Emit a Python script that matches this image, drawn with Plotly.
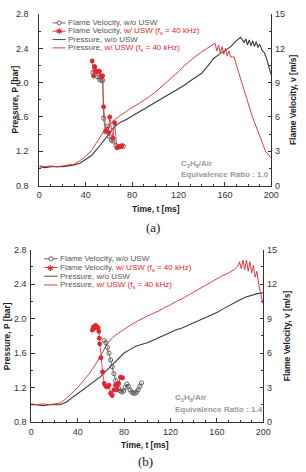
import plotly.graph_objects as go

W, H = 306, 472

# ---------------- DATA ----------------
# Panel (a): Equivalence ratio 1.0
a_p_wo_t = [0, 5, 10, 15, 20, 25, 30, 35, 40, 45, 50, 55, 60, 65, 70, 75, 80, 85, 90, 95,
            100, 105, 110, 115, 120, 125, 130, 135, 140, 145, 150, 155, 160, 165, 170,
            172, 173.5, 175, 176.5, 178, 179.5, 181, 182.5, 184, 185.5, 187, 188.5, 190,
            192, 194, 196, 198, 200]
a_p_wo = [1.02, 1.01, 1.02, 1.02, 1.02, 1.03, 1.04, 1.06, 1.10, 1.15, 1.23, 1.31, 1.40, 1.49, 1.54,
          1.57, 1.61, 1.65, 1.68, 1.72, 1.76, 1.80, 1.85, 1.89, 1.93, 1.97, 2.02, 2.06, 2.11, 2.19,
          2.28, 2.33, 2.37, 2.42, 2.49, 2.52, 2.53, 2.50, 2.47, 2.51, 2.44, 2.50, 2.43, 2.49, 2.42,
          2.48, 2.41, 2.45, 2.38, 2.35, 2.28, 2.18, 2.09]

a_p_w_t = [0, 5, 10, 15, 20, 25, 30, 35, 40, 45, 50, 55, 60, 65, 70, 75, 80, 85, 90, 95,
           100, 105, 110, 115, 120, 125, 130, 135, 140, 145, 150,
           151.5, 153, 154.5, 156, 157.5, 159, 160.5, 162, 163.5, 165, 168,
           170, 174, 178, 183.5, 190, 195, 200]
a_p_w = [1.03, 1.02, 1.03, 1.02, 1.03, 1.04, 1.05, 1.09, 1.14, 1.21, 1.32, 1.42, 1.50, 1.57, 1.62,
         1.67, 1.71, 1.75, 1.79, 1.84, 1.89, 1.95, 2.00, 2.06, 2.13, 2.20, 2.26, 2.31, 2.36, 2.40,
         2.44, 2.46, 2.37, 2.44, 2.35, 2.42, 2.33, 2.40, 2.31, 2.37, 2.30, 2.30,
         2.20, 2.03, 1.86, 1.61, 1.38, 1.20, 1.12]

a_v_wo_t = [46.2, 47.6, 49.0, 50.4, 51.8, 53.2, 54.6, 55.4, 57.0, 59.0, 60.5, 62.0, 63.5, 66.0, 68.5, 70.5, 72.5]
a_v_wo = [9.9, 10.4, 10.0, 9.5, 9.3, 9.2, 9.2, 5.9, 4.7, 5.2, 4.3, 4.0, 3.9, 3.5, 3.4, 3.4, 3.45]

a_v_w_t = [45.6, 46.8, 47.6, 49.0, 50.4, 51.8, 53.2, 54.6, 55.4, 57.4, 59.6, 60.7, 63.5, 64.9, 67.0, 69.0, 71.2]
a_v_w = [10.9, 9.6, 10.4, 10.0, 10.0, 10.0, 9.6, 9.6, 6.9, 4.8, 4.65, 6.0, 4.15, 5.5, 3.3, 3.4, 3.5]

# Panel (b): Equivalence ratio 1.4
b_p_wo_t = [0, 5, 10, 15, 20, 25, 30, 35, 40, 45, 50, 55, 60, 65, 70, 75, 80, 85, 90, 95,
            100, 105, 110, 115, 120, 125, 130, 135, 140, 145, 150, 155, 160, 165, 170, 175,
            180, 185, 190, 195, 200]
b_p_wo = [1.00, 1.00, 0.99, 1.00, 1.00, 1.00, 1.03, 1.08, 1.12, 1.17, 1.23, 1.28, 1.33, 1.40, 1.47,
          1.54, 1.60, 1.64, 1.68, 1.70, 1.72, 1.75, 1.78, 1.81, 1.84, 1.87, 1.89, 1.92, 1.95, 1.98,
          2.01, 2.04, 2.07, 2.11, 2.15, 2.18, 2.22, 2.25, 2.27, 2.29, 2.30]

b_p_w_t = [0, 5, 10, 15, 20, 25, 30, 35, 40, 45, 50, 55, 60, 65, 70, 75, 80, 85, 90, 95,
           100, 105, 110, 115, 120, 125, 130, 135, 140, 145, 150, 155, 160, 165, 170, 175,
           178, 179.5, 181, 182.5, 184, 185.5, 187, 188.5, 190, 191.5, 193, 194.5, 196, 198, 200]
b_p_w = [1.01, 1.00, 1.01, 1.00, 1.01, 1.02, 1.07, 1.13, 1.20, 1.28, 1.36, 1.46, 1.57, 1.70, 1.78,
         1.83, 1.88, 1.92, 1.96, 2.00, 2.03, 2.06, 2.09, 2.13, 2.16, 2.20, 2.23, 2.27, 2.31, 2.35,
         2.38, 2.43, 2.46, 2.50, 2.53, 2.57, 2.61, 2.66, 2.58, 2.68, 2.57, 2.68, 2.55, 2.66, 2.53,
         2.62, 2.48, 2.55, 2.40, 2.28, 2.16]

b_v_wo_t = [62.9, 64.3, 65.6, 67.0, 68.4, 69.8, 71.2, 72.6, 74.0, 75.4, 76.8, 78.2, 79.6, 81.0,
            82.4, 83.8, 85.2, 86.6, 88.0, 89.4, 90.8, 92.2, 93.6, 95.0]
b_v_wo = [7.1, 6.9, 6.5, 6.0, 5.4, 4.8, 4.2, 3.6, 3.2, 2.9, 2.7, 2.6, 2.7, 3.0, 3.3, 3.1, 2.8,
          2.6, 2.5, 2.5, 2.6, 2.8, 3.1, 3.4]

b_v_w_t = [52.7, 53.6, 54.6, 55.5, 56.5, 57.5, 58.2, 58.7, 59.0, 60.1, 61.5, 62.9, 64.3, 65.6,
           67.0, 68.4, 69.8, 71.2, 72.6, 74.0, 75.4, 76.8, 78.7]
b_v_w = [8.0, 8.3, 8.2, 8.4, 8.3, 8.2, 7.9, 7.3, 6.8, 5.6, 4.35, 3.35, 3.1, 3.05, 3.2, 2.5, 2.3,
         2.8, 3.2, 2.8, 3.35, 3.9, 3.85]

x_ticks = [0, 40, 80, 120, 160, 200]
p_ticks = [0.8, 1.2, 1.6, 2.0, 2.4, 2.8]
v_ticks = [0, 3, 6, 9, 12, 15]

legend_labels = [
    "Flame Velocity, w/o USW",
    "Flame Velocity, <span style='color:#e3262c'>w/ USW (f<sub>s</sub> = 40 kHz)</span>",
    "Pressure, w/o USW",
    "Pressure, <span style='color:#e3262c'>w/ USW (f<sub>s</sub> = 40 kHz)</span>",
]

# ---------------- STYLE ----------------
FONT = "Liberation Sans, Arial, sans-serif"
BLACK = "#3a3a3a"
GRAY_M = "#555555"
RED = "#e3262c"
AX = "#333333"


def X(p):
    return p / W


def Y(p):
    return 1 - p / H


fig = go.Figure()

panels = [
    dict(x="x", yl="y", yr="y2", pwo=(a_p_wo_t, a_p_wo), pw=(a_p_w_t, a_p_w),
         vwo=(a_v_wo_t, a_v_wo), vw=(a_v_w_t, a_v_w)),
    dict(x="x2", yl="y3", yr="y4", pwo=(b_p_wo_t, b_p_wo), pw=(b_p_w_t, b_p_w),
         vwo=(b_v_wo_t, b_v_wo), vw=(b_v_w_t, b_v_w)),
]

for pn in panels:
    fig.add_trace(go.Scatter(x=pn["pwo"][0], y=pn["pwo"][1], xaxis=pn["x"], yaxis=pn["yl"],
                             mode="lines", line=dict(color=BLACK, width=1.1), showlegend=False))
    fig.add_trace(go.Scatter(x=pn["pw"][0], y=pn["pw"][1], xaxis=pn["x"], yaxis=pn["yl"],
                             mode="lines", line=dict(color=RED, width=0.9), showlegend=False))
    fig.add_trace(go.Scatter(x=pn["vwo"][0], y=pn["vwo"][1], xaxis=pn["x"], yaxis=pn["yr"],
                             mode="lines+markers", line=dict(color=GRAY_M, width=0.8),
                             marker=dict(symbol="circle-open", size=4.2, color=GRAY_M,
                                         line=dict(width=0.9)),
                             showlegend=False))
    fig.add_trace(go.Scatter(x=pn["vw"][0], y=pn["vw"][1], xaxis=pn["x"], yaxis=pn["yr"],
                             mode="lines+markers", line=dict(color=RED, width=0.8),
                             marker=dict(symbol="asterisk-open", size=4, color=RED,
                                         line=dict(width=1.5, color=RED)),
                             showlegend=False))

tickfont = dict(family=FONT, size=9, color="#333333")


def xax(domain, anchor):
    return dict(domain=domain, anchor=anchor, range=[0, 200], tickvals=x_ticks,
                ticks="inside", ticklen=3.5, tickcolor=AX, tickwidth=0.8,
                minor=dict(dtick=10, ticks="inside", ticklen=2, tickcolor=AX, tickwidth=0.8),
                showline=True, linecolor=AX, linewidth=1, mirror=False,
                showgrid=False, zeroline=False, tickfont=tickfont, ticklabelstandoff=1)


def yl(domain, anchor, standoff):
    return dict(domain=domain, anchor=anchor, range=[0.8, 2.8], tickvals=p_ticks,
                tickformat=".1f", ticks="inside", ticklen=3.5, tickcolor=AX, tickwidth=0.8,
                minor=dict(dtick=0.2, ticks="inside", ticklen=2, tickcolor=AX, tickwidth=0.8),
                showline=True, linecolor=AX, linewidth=1, showgrid=False, zeroline=False,
                tickfont=tickfont, ticklabelstandoff=standoff)


def yr(overlay, anchor):
    return dict(overlaying=overlay, anchor=anchor, side="right", range=[0, 15], tickvals=v_ticks,
                ticks="inside", ticklen=3.5, tickcolor=AX, tickwidth=0.8,
                minor=dict(dtick=1.5, ticks="inside", ticklen=2, tickcolor=AX, tickwidth=0.8),
                showline=True, linecolor=AX, linewidth=1, showgrid=False, zeroline=False,
                tickfont=tickfont, ticklabelstandoff=1)


# plot area pixel boxes
A = dict(l=37.7, r=278.3, t=9.3, b=184.5)
B = dict(l=29.3, r=270.0, t=250.0, b=426.0)

fig.update_layout(
    width=W, height=H,
    margin=dict(l=0, r=0, t=0, b=0),
    paper_bgcolor="white", plot_bgcolor="white",
    showlegend=False,
    xaxis=xax([X(A["l"]), X(A["r"])], "y"),
    yaxis=yl([Y(A["b"]), Y(A["t"])], "x", 8),
    yaxis2=yr("y", "x"),
    xaxis2=xax([X(B["l"]), X(B["r"])], "y3"),
    yaxis3=yl([Y(B["b"]), Y(B["t"])], "x2", 2),
    yaxis4=yr("y3", "x2"),
)

ann = []
shapes = []


def add_text(x, y, text, size=8.5, color="#444444", xanchor="left", angle=0, family=FONT):
    ann.append(dict(x=X(x), y=Y(y), xref="paper", yref="paper", text=text, showarrow=False,
                    xanchor=xanchor, yanchor="middle", textangle=angle, borderpad=0,
                    font=dict(family=family, size=size, color=color)))


def legend(x0, x1, xt, rows):
    styles = ["circ", "star", "black", "red"]
    for lab, yy, st in zip(legend_labels, rows, styles):
        col = {"circ": GRAY_M, "star": RED, "black": BLACK, "red": RED}[st]
        shapes.append(dict(type="line", xref="paper", yref="paper", x0=X(x0), x1=X(x1),
                           y0=Y(yy), y1=Y(yy), line=dict(color=col, width=0.9)))
        xm = (x0 + x1) / 2
        if st == "circ":
            shapes.append(dict(type="circle", xref="paper", yref="paper",
                               x0=X(xm - 2.1), x1=X(xm + 2.1), y0=Y(yy + 2.1), y1=Y(yy - 2.1),
                               line=dict(color=GRAY_M, width=0.9), fillcolor="white"))
        if st == "star":
            add_text(xm, yy + 0.5, "✱", size=7.5, color=RED, xanchor="center")
        add_text(xt, yy, lab, size=8, color="#555555")


legend(51.5, 65, 66.5, [18.3, 26.8, 35.3, 43.8])
legend(42.7, 56.7, 58.5, [259.3, 268.2, 277.1, 286.0])

# annotations within plots
GR = "#9a9a9a"
add_text(184, 162, "<b>C<sub>3</sub>H<sub>8</sub>/Air</b>", size=8, color=GR)
add_text(184, 173, "<b>Equivalence Ratio : 1.0</b>", size=8, color=GR)
add_text(177, 402, "<b>C<sub>3</sub>H<sub>8</sub>/Air</b>", size=8, color=GR)
add_text(177, 413, "<b>Equivalence Ratio : 1.4</b>", size=8, color=GR)

# axis titles
add_text(158.5, 208, "<b>Time, t [ms]</b>", size=8.5, color="#222222", xanchor="center")
add_text(147, 449.5, "<b>Time, t [ms]</b>", size=8.5, color="#222222", xanchor="center")
add_text(12, 97, "<b>Pressure, P [bar]</b>", size=8.5, color="#222222", xanchor="center", angle=-90)
add_text(4.5, 338, "<b>Pressure, P [bar]</b>", size=8.5, color="#222222", xanchor="center", angle=-90)
add_text(301, 97, "<b>Flame Velocity, v [m/s]</b>", size=8.5, color="#222222", xanchor="center", angle=-90)
add_text(294, 338, "<b>Flame Velocity, v [m/s]</b>", size=8.5, color="#222222", xanchor="center", angle=-90)

# panel labels
add_text(156, 227, "(a)", size=13, color="#222222", xanchor="center",
         family="Liberation Serif, Times New Roman, serif")
add_text(148, 466, "(b)", size=13, color="#222222", xanchor="center",
         family="Liberation Serif, Times New Roman, serif")

fig.update_layout(annotations=ann, shapes=shapes)

fig.write_html("out.html")
